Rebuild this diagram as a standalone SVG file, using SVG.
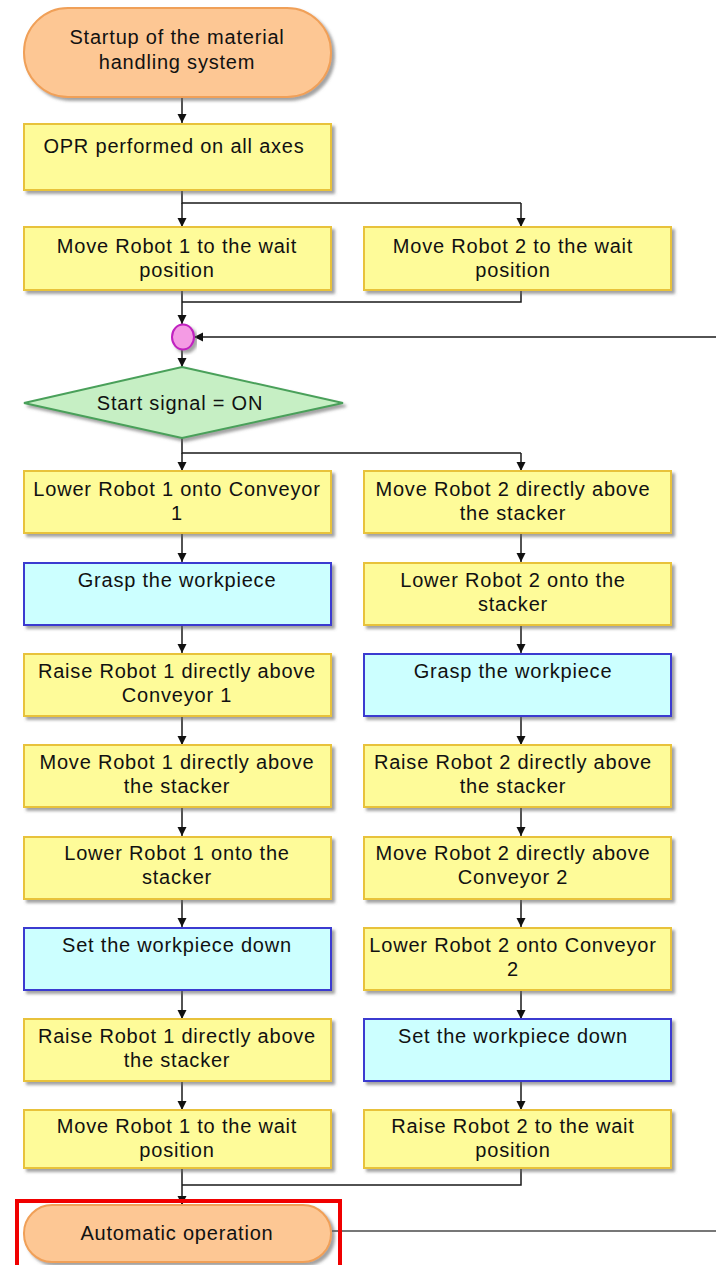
<svg xmlns="http://www.w3.org/2000/svg" width="716" height="1265" viewBox="0 0 716 1265">
<style>
text{font-family:"Liberation Sans",Arial,sans-serif;font-size:20px;letter-spacing:0.8px;fill:#111;text-anchor:middle}
.y{fill:#fefb99;stroke:#e8c23a;stroke-width:2}
.b{fill:#ccffff;stroke:#3a3ad0;stroke-width:2}
.t{fill:#fdc794;stroke:#f0a058;stroke-width:2}
.c{fill:none;stroke:#1a1a1a;stroke-width:1.5}
.a{marker-end:url(#ah)}
</style>
<defs>
<marker id="ah" viewBox="0 0 10 10" refX="10" refY="5" markerWidth="9" markerHeight="10" markerUnits="userSpaceOnUse" orient="auto">
<path d="M0,0 L10,5 L0,10 Z" fill="#111"/>
</marker>
<filter id="sh" x="-5%" y="-5%" width="115%" height="125%">
<feDropShadow dx="3" dy="3" stdDeviation="1.5" flood-color="#666" flood-opacity="0.6"/>
</filter>
</defs>
<rect width="716" height="1265" fill="#fff"/>

<g id="connectors">
<path class="c a" d="M182,97 V123"/>
<path class="c" d="M182,190 V203 H521"/>
<path class="c a" d="M182,203 V227"/>
<path class="c a" d="M521,203 V227"/>
<path class="c" d="M182,290 V302 M521,290 V302 H182"/>
<path class="c a" d="M182,302 V324"/>
<path class="c a" d="M716,337 H194"/>
<path class="c a" d="M182,350 V367"/>
<path class="c" d="M182,438 V453 H521"/>
<path class="c a" d="M182,453 V471"/>
<path class="c a" d="M521,453 V471"/>
<path class="c a" d="M182,533 V562"/>
<path class="c a" d="M182,625 V653"/>
<path class="c a" d="M182,716 V745"/>
<path class="c a" d="M182,807 V836"/>
<path class="c a" d="M182,899 V927"/>
<path class="c a" d="M182,990 V1019"/>
<path class="c a" d="M182,1081 V1110"/>
<path class="c a" d="M521,533 V562"/>
<path class="c a" d="M521,625 V653"/>
<path class="c a" d="M521,716 V745"/>
<path class="c a" d="M521,807 V836"/>
<path class="c a" d="M521,899 V927"/>
<path class="c a" d="M521,990 V1019"/>
<path class="c a" d="M521,1081 V1110"/>
<path class="c" d="M182,1168 V1185 M521,1168 V1185 H182"/>
<path class="c a" d="M182,1185 V1205"/>
<path d="M332,1231 H716" fill="none" stroke="#777" stroke-width="2"/>
</g>

<g id="n-startup">
<rect class="t" x="24" y="8" width="307" height="89" rx="44" filter="url(#sh)"/>
<text x="177" y="44">Startup of the material</text>
<text x="177" y="69">handling system</text>
</g>
<g id="n-opr">
<rect class="y" x="24" y="124" width="307" height="66" filter="url(#sh)"/>
<text x="174" y="153">OPR performed on all axes</text>
</g>
<g id="n-r1wait">
<rect class="y" x="24" y="227" width="307" height="63" filter="url(#sh)"/>
<text x="177" y="253">Move Robot 1 to the wait</text>
<text x="177" y="277">position</text>
</g>
<g id="n-r2wait">
<rect class="y" x="364" y="227" width="307" height="63" filter="url(#sh)"/>
<text x="513" y="253">Move Robot 2 to the wait</text>
<text x="513" y="277">position</text>
</g>
<g id="n-junction">
<ellipse cx="183" cy="337" rx="11" ry="12.5" fill="#f49be4" stroke="#c020c0" stroke-width="2" filter="url(#sh)"/>
</g>
<g id="n-start">
<path d="M182,367 L343,403 L182,438 L24,403 Z" fill="#c6efc4" stroke="#4aa05a" stroke-width="2" filter="url(#sh)"/>
<text x="180" y="410">Start signal = ON</text>
</g>

<g id="n-l1"><rect class="y" x="24" y="471" width="307" height="62" filter="url(#sh)"/><text x="177" y="496">Lower Robot 1 onto Conveyor</text><text x="177" y="520">1</text></g>
<g id="n-l2"><rect class="b" x="24" y="563" width="307" height="62" filter="url(#sh)"/><text x="177" y="587">Grasp the workpiece</text></g>
<g id="n-l3"><rect class="y" x="24" y="654" width="307" height="62" filter="url(#sh)"/><text x="177" y="678">Raise Robot 1 directly above</text><text x="177" y="702">Conveyor 1</text></g>
<g id="n-l4"><rect class="y" x="24" y="745" width="307" height="62" filter="url(#sh)"/><text x="177" y="769">Move Robot 1 directly above</text><text x="177" y="793">the stacker</text></g>
<g id="n-l5"><rect class="y" x="24" y="837" width="307" height="62" filter="url(#sh)"/><text x="177" y="860">Lower Robot 1 onto the</text><text x="177" y="884">stacker</text></g>
<g id="n-l6"><rect class="b" x="24" y="928" width="307" height="62" filter="url(#sh)"/><text x="177" y="952">Set the workpiece down</text></g>
<g id="n-l7"><rect class="y" x="24" y="1019" width="307" height="62" filter="url(#sh)"/><text x="177" y="1043">Raise Robot 1 directly above</text><text x="177" y="1067">the stacker</text></g>
<g id="n-l8"><rect class="y" x="24" y="1110" width="307" height="58" filter="url(#sh)"/><text x="177" y="1133">Move Robot 1 to the wait</text><text x="177" y="1157">position</text></g>

<g id="n-r1"><rect class="y" x="364" y="471" width="307" height="62" filter="url(#sh)"/><text x="513" y="496">Move Robot 2 directly above</text><text x="513" y="520">the stacker</text></g>
<g id="n-r2"><rect class="y" x="364" y="563" width="307" height="62" filter="url(#sh)"/><text x="513" y="587">Lower Robot 2 onto the</text><text x="513" y="611">stacker</text></g>
<g id="n-r3"><rect class="b" x="364" y="654" width="307" height="62" filter="url(#sh)"/><text x="513" y="678">Grasp the workpiece</text></g>
<g id="n-r4"><rect class="y" x="364" y="745" width="307" height="62" filter="url(#sh)"/><text x="513" y="769">Raise Robot 2 directly above</text><text x="513" y="793">the stacker</text></g>
<g id="n-r5"><rect class="y" x="364" y="837" width="307" height="62" filter="url(#sh)"/><text x="513" y="860">Move Robot 2 directly above</text><text x="513" y="884">Conveyor 2</text></g>
<g id="n-r6"><rect class="y" x="364" y="928" width="307" height="62" filter="url(#sh)"/><text x="513" y="952">Lower Robot 2 onto Conveyor</text><text x="513" y="976">2</text></g>
<g id="n-r7"><rect class="b" x="364" y="1019" width="307" height="62" filter="url(#sh)"/><text x="513" y="1043">Set the workpiece down</text></g>
<g id="n-r8"><rect class="y" x="364" y="1110" width="307" height="58" filter="url(#sh)"/><text x="513" y="1133">Raise Robot 2 to the wait</text><text x="513" y="1157">position</text></g>

<g id="n-auto">
<rect class="t" x="24" y="1205" width="307" height="57" rx="28" filter="url(#sh)"/>
<text x="177" y="1240">Automatic operation</text>
</g>
<g id="highlight">
<rect x="17" y="1201" width="323" height="70" fill="none" stroke="#f00000" stroke-width="4"/>
</g>
</svg>
